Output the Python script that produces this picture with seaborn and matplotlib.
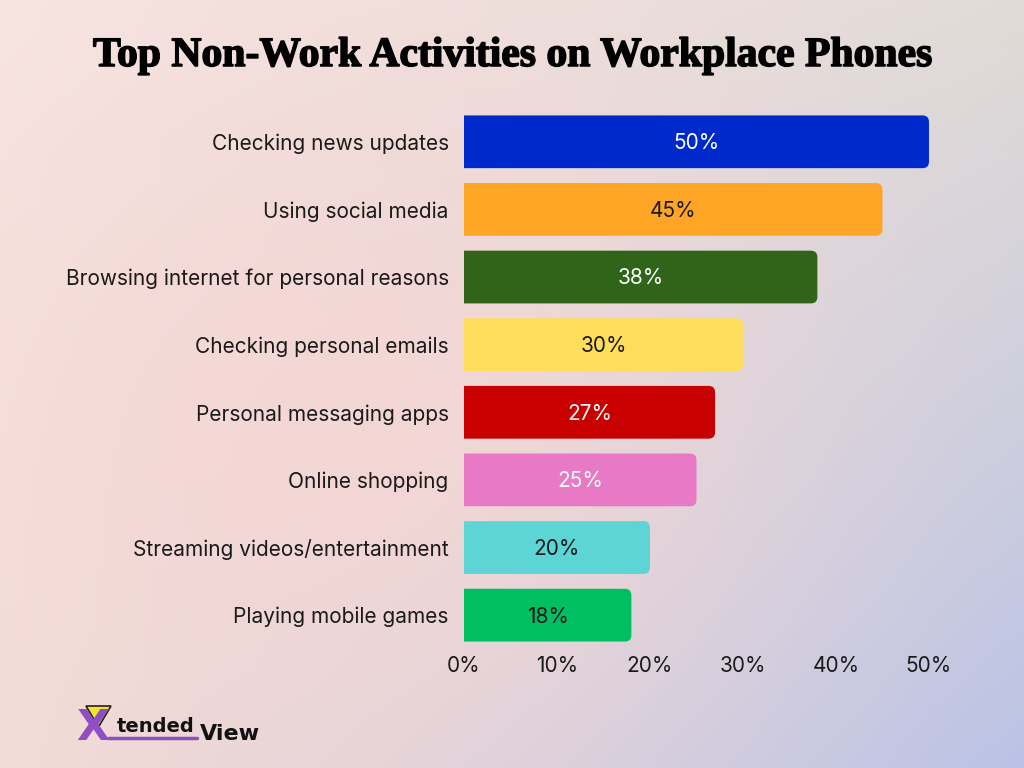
import numpy as np
import matplotlib
matplotlib.use("Agg")
import matplotlib.pyplot as plt
import matplotlib.patheffects as pe
from matplotlib.patches import PathPatch, Polygon
from matplotlib.path import Path
from matplotlib.colors import to_rgb
import seaborn as sns

# --- Data ---
activities = [
    "Checking news updates",
    "Using social media",
    "Browsing internet for personal reasons",
    "Checking personal emails",
    "Personal messaging apps",
    "Online shopping",
    "Streaming videos/entertainment",
    "Playing mobile games",
]
shares = [50, 45, 38, 30, 27, 25, 20, 18]
bar_colors = ["#0029cc", "#ffa526", "#2f6419", "#ffdd5c",
              "#c80000", "#e879c4", "#5dd5d5", "#00bf63"]
label_colors = ["white", "#1a1a1a", "white", "#1a1a1a",
                "white", "white", "#1a1a1a", "#1a1a1a"]
x_ticks = [0, 10, 20, 30, 40, 50]

sns.set_style("white")
plt.rcParams["font.family"] = ["Inter", "DejaVu Sans"]

fig = plt.figure(figsize=(10.24, 7.68), dpi=100)

# --- Background gradient ---
bg = fig.add_axes([0, 0, 1, 1], zorder=-10)
h, w = 192, 256
yy, xx = np.mgrid[0:1:h * 1j, 0:1:w * 1j]
tl, tr = np.array(to_rgb("#f8e6e4")), np.array(to_rgb("#e1dbd6"))
bl, br = np.array(to_rgb("#f3ddd6")), np.array(to_rgb("#b9c2e6"))
img = (tl * ((1 - xx) * (1 - yy))[..., None] + tr * (xx * (1 - yy))[..., None]
       + bl * ((1 - xx) * yy)[..., None] + br * (xx * yy)[..., None])
pink = np.array(to_rgb("#f7d6d2"))
blob = np.exp(-(((xx - 0.35) / 0.4) ** 2 + ((yy - 0.55) / 0.5) ** 2))[..., None]
img = img * (1 - 0.75 * blob) + pink * 0.75 * blob
bg.imshow(img, aspect="auto", extent=[0, 1, 0, 1], origin="upper")
bg.axis("off")

# --- Bars ---
ax = fig.add_axes([0.4531, 0.155, 0.4541, 0.7044])
ax.set_facecolor("none")
sns.barplot(x=shares, y=activities, hue=activities, palette=bar_colors,
            legend=False, width=0.78, ax=ax, saturation=1, edgecolor="none")

ax.set_xlim(0, 50)
ax.set_ylim(7.5, -0.5)

# swap each bar for a shape with square left and rounded right corners
rx, ry = 0.7, 0.096
for patch, col in zip(ax.patches[:len(shares)], bar_colors):
    x0, y0 = patch.get_x(), patch.get_y()
    x1, y1 = x0 + patch.get_width(), y0 + patch.get_height()
    patch.set_visible(False)
    verts = [(x0, y0), (x1 - rx, y0), (x1, y0), (x1, y0 + ry),
             (x1, y1 - ry), (x1, y1), (x1 - rx, y1), (x0, y1), (x0, y0)]
    codes = [Path.MOVETO, Path.LINETO, Path.CURVE3, Path.CURVE3,
             Path.LINETO, Path.CURVE3, Path.CURVE3, Path.LINETO, Path.CLOSEPOLY]
    ax.add_patch(PathPatch(Path(verts, codes), facecolor=col,
                           edgecolor="none", linewidth=0, zorder=2))

for i, (v, tc) in enumerate(zip(shares, label_colors)):
    ax.text(v / 2, i + 0.02, f"{v}%", ha="center", va="center",
            fontsize=15, color=tc, zorder=3)

ax.set_xticks(x_ticks)
ax.set_xticklabels([f"{t}%" for t in x_ticks])
ax.tick_params(axis="x", length=0, pad=5, labelsize=15, colors="#1a1a1a")
ax.tick_params(axis="y", length=0, pad=11, labelsize=15, colors="#1a1a1a")
ax.set_xlabel("")
ax.set_ylabel("")
sns.despine(ax=ax, left=True, bottom=True)

# --- Title ---
fig.text(0.5, 1 - 56 / 768, "Top Non-Work Activities on Workplace Phones",
         ha="center", va="center", fontsize=30, fontweight="bold",
         family=["Liberation Serif", "DejaVu Serif"], color="black",
         path_effects=[pe.withStroke(linewidth=1.1, foreground="black")])

# --- Logo ---
def px(x, y):
    return (x / 1024, 1 - y / 768)

fig.text(*px(76, 740), "X", fontsize=31, fontweight="bold",
         color="#8e4fc4", family=["DejaVu Sans"], va="baseline")
fig.add_artist(Polygon([px(86, 706), px(111, 706), px(98.5, 727)],
                       closed=True, transform=fig.transFigure,
                       facecolor="#f2e233", edgecolor="#222222", lw=1.2))
fig.text(*px(117, 732), "tended", fontsize=14, fontweight="bold",
         color="#111111", family=["DejaVu Sans"], va="baseline")
fig.text(*px(200, 740), "View", fontsize=16, fontweight="bold",
         color="#111111", family=["DejaVu Sans"], va="baseline")
fig.add_artist(plt.Line2D([108 / 1024, 197 / 1024], [1 - 738 / 768, 1 - 738 / 768],
                          color="#8e4fc4", lw=2.5))

fig.savefig("out.png", dpi=100)
